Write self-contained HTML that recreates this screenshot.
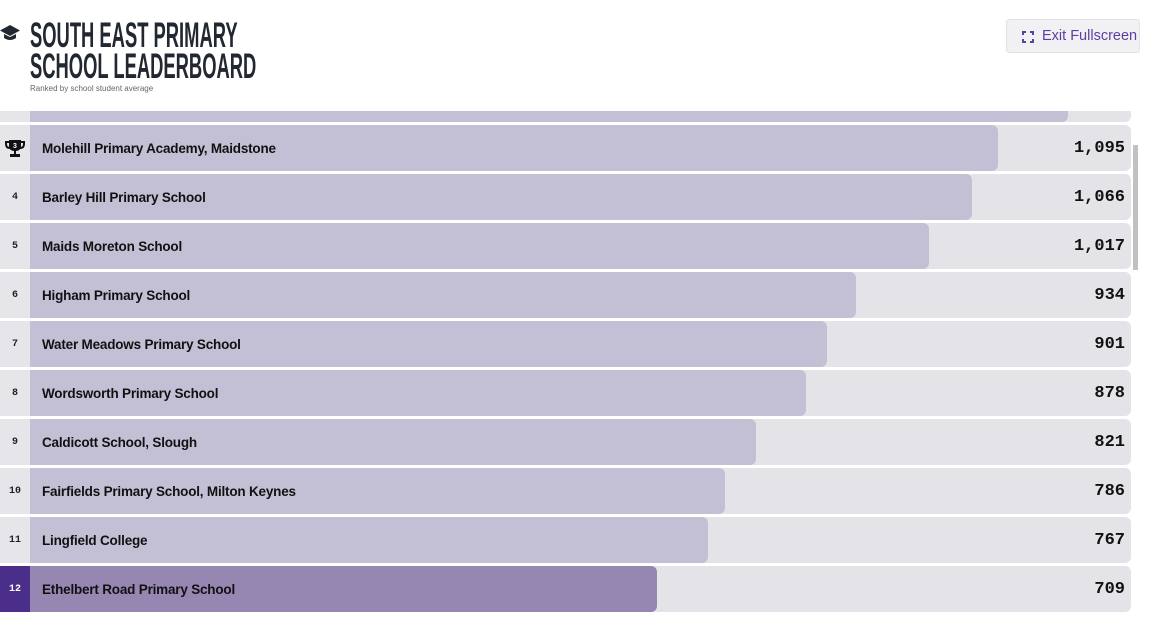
<!DOCTYPE html>
<html><head><meta charset="utf-8"><style>
body{margin:0;width:1156px;height:636px;background:#fff;position:relative;overflow:hidden;font-family:"Liberation Sans",sans-serif}
.title{position:absolute;left:30px;top:20px;font-family:"Liberation Sans Narrow","Liberation Sans",sans-serif;font-weight:bold;font-size:35px;line-height:31px;color:#222831;transform:scaleX(0.525);transform-origin:left top;white-space:nowrap}
.sub{position:absolute;left:30px;top:84px;font-size:8px;color:#666}
.btn{position:absolute;left:1006px;top:19px;width:134px;height:34px;background:#f1f1f4;border:1px solid #e2e2e8;border-radius:3px;box-sizing:border-box;color:#5b3fa0;font-size:14.5px;line-height:33px;padding-left:35px;white-space:nowrap}
.btn svg{position:absolute;left:15px;top:11px}
.list{position:absolute;left:0;top:111px;width:1133px;height:525px;overflow:hidden}
.row{position:absolute;left:0;width:1131px;height:46px}
.rk{position:absolute;left:0;top:0;width:30px;height:46px;background:#e6e6ea;font-family:"Liberation Mono",monospace;font-size:10px;font-weight:bold;text-align:center;line-height:48px;color:#222}
.tr{position:absolute;left:30px;top:0;right:0;height:46px;background:#e4e4e8;border-radius:0 6px 6px 0}
.bar{position:absolute;left:30px;top:0;height:46px;background:#c3c0d5;border-radius:0 6px 6px 0}
.nm{position:absolute;left:42px;top:1px;line-height:46px;font-size:13.5px;font-weight:bold;color:#111;letter-spacing:-0.2px}
.v{position:absolute;right:6px;top:1px;line-height:46px;font-family:"Liberation Mono",monospace;font-size:17px;font-weight:bold;color:#111}
.hl .rk{background:#4b2e8a;color:#fff}
.hl .bar{background:#9686b2}
.sb{position:absolute;left:1133px;top:145px;width:5px;height:125px;background:#c1c1c1}
</style></head><body>
<svg style="position:absolute;left:0;top:24px" width="20" height="20" viewBox="0 0 20 20"><path d="M10 1 L20 6.5 L10 12 L0 6.5Z" fill="#222831"/><path d="M4 10 L4 14 Q10 18 16 14 L16 10 L10 13Z" fill="#222831"/></svg>
<div class="title">SOUTH EAST PRIMARY<br>SCHOOL LEADERBOARD</div>
<div class="sub">Ranked by school student average</div>
<div class="btn"><svg width="12" height="12" viewBox="0 0 12 12" fill="none" stroke="#5b3fa0" stroke-width="2"><path d="M1 4V1H4M8 1H11V4M11 8V11H8M4 11H1V8"/></svg>Exit Fullscreen</div>
<div class="list">
<div class="row" style="top:-35px"><div class="rk">2</div><div class="tr"></div><div class="bar" style="width:1038px"></div></div>
<div class="row" style="top:14px"><div class="rk"><svg style="margin-top:13px" width="20" height="20" viewBox="0 0 20 20"><path d="M4 2H16V8Q16 13 10 13Q4 13 4 8Z" fill="#111"/><path d="M4 4H1V6Q1 10 5 10M16 4H19V6Q19 10 15 10" stroke="#111" stroke-width="2" fill="none"/><rect x="9" y="12" width="2" height="4" fill="#111"/><rect x="5" y="16" width="10" height="3" fill="#111"/><text x="10" y="10" font-size="7" fill="#fff" text-anchor="middle" font-family="Liberation Sans">3</text></svg></div><div class="tr"></div><div class="bar" style="width:968px"></div><div class="nm">Molehill Primary Academy, Maidstone</div><div class="v">1,095</div></div>
<div class="row" style="top:63px"><div class="rk">4</div><div class="tr"></div><div class="bar" style="width:942px"></div><div class="nm">Barley Hill Primary School</div><div class="v">1,066</div></div>
<div class="row" style="top:112px"><div class="rk">5</div><div class="tr"></div><div class="bar" style="width:899px"></div><div class="nm">Maids Moreton School</div><div class="v">1,017</div></div>
<div class="row" style="top:161px"><div class="rk">6</div><div class="tr"></div><div class="bar" style="width:826px"></div><div class="nm">Higham Primary School</div><div class="v">934</div></div>
<div class="row" style="top:210px"><div class="rk">7</div><div class="tr"></div><div class="bar" style="width:797px"></div><div class="nm">Water Meadows Primary School</div><div class="v">901</div></div>
<div class="row" style="top:259px"><div class="rk">8</div><div class="tr"></div><div class="bar" style="width:776px"></div><div class="nm">Wordsworth Primary School</div><div class="v">878</div></div>
<div class="row" style="top:308px"><div class="rk">9</div><div class="tr"></div><div class="bar" style="width:726px"></div><div class="nm">Caldicott School, Slough</div><div class="v">821</div></div>
<div class="row" style="top:357px"><div class="rk">10</div><div class="tr"></div><div class="bar" style="width:695px"></div><div class="nm">Fairfields Primary School, Milton Keynes</div><div class="v">786</div></div>
<div class="row" style="top:406px"><div class="rk">11</div><div class="tr"></div><div class="bar" style="width:678px"></div><div class="nm">Lingfield College</div><div class="v">767</div></div>
<div class="row hl" style="top:455px"><div class="rk">12</div><div class="tr"></div><div class="bar" style="width:627px"></div><div class="nm">Ethelbert Road Primary School</div><div class="v">709</div></div>
</div>
<div class="sb"></div>
</body></html>
